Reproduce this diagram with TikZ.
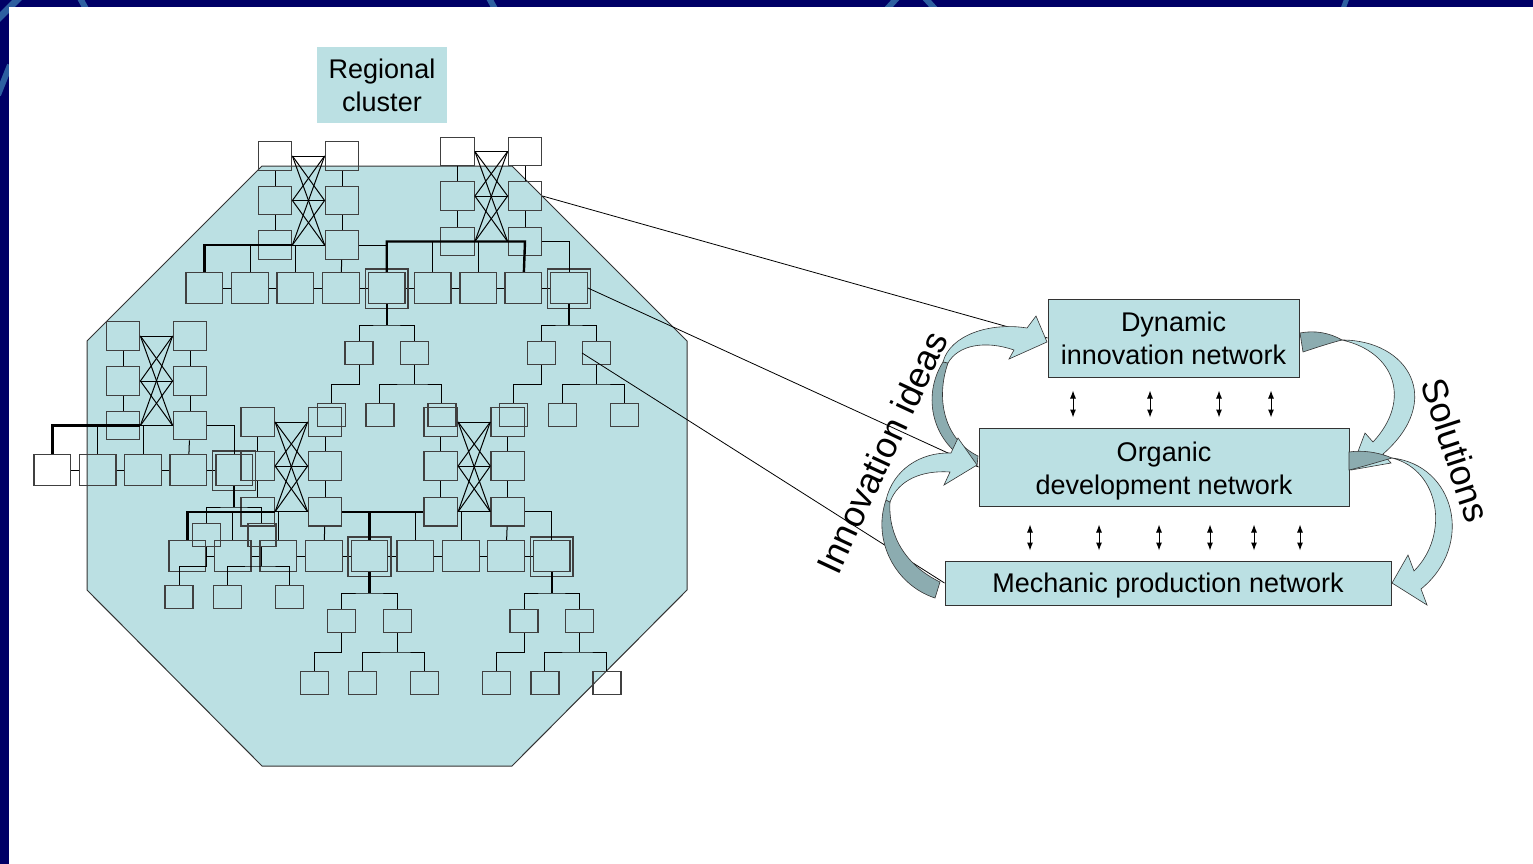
\documentclass[tikz,border=0pt]{standalone}
\usepackage{fontspec}
\setmainfont{Liberation Sans}
\usetikzlibrary{arrows.meta}
\definecolor{clusterfill}{RGB}{187,224,227}
\definecolor{backface}{RGB}{140,172,176}
\definecolor{slidenavy}{RGB}{0,0,102}
\definecolor{slidearc}{RGB}{45,95,160}

\begin{document}
\begin{tikzpicture}[x=1pt,y=-1pt,line width=1pt,
	lat node/.style = {draw=black!75, line width=1.3pt, inner sep=0pt, minimum width=33.5pt, minimum height=28.5pt},
	row node/.style = {draw=black!75, line width=1.3pt, inner sep=0pt, minimum width=36.5pt, minimum height=31pt},
	leaf node/.style = {draw=black!75, line width=1.3pt, inner sep=0pt, minimum width=28pt, minimum height=23.5pt},
	net node/.style = {draw=black!80, fill=clusterfill, align=center, inner sep=0pt, font=\fontsize{27}{33}\selectfont},
	net text/.style = {align=center, font=\fontsize{27}{33}\selectfont, yshift=-4pt},
	bus/.style = {line width=2.4pt},
	link/.style = {line width=0.8pt},
	dbl/.style = {{Latex[length=8pt,width=6pt]}-{Latex[length=8pt,width=6pt]}, line width=1pt},
	front/.style = {fill=clusterfill, draw=black!80, line width=0.6pt},
	back/.style = {fill=backface, draw=black!80, line width=0.6pt}]

\useasboundingbox (0,0) rectangle (1533,864);
\fill[slidenavy] (0,0) rectangle (1533,864);
\draw[slidearc, line width=7pt] (-3,20) -- (20,-3);
\draw[slidearc, line width=6pt] (80,-2) -- (86,9);
\draw[slidearc, line width=6pt] (489,-2) -- (495,9);
\draw[slidearc, line width=6pt] (887,9) -- (897,-2);
\draw[slidearc, line width=6pt] (925,-2) -- (935,9);
\draw[slidearc, line width=5pt] (1343,9) -- (1347,-2);
\draw[slidearc, line width=6pt] (-2,95) -- (10,65);
\fill[white] (8.5,7) rectangle (1533,864);

% regional cluster
\draw[fill=clusterfill, draw=black!80] (262,166) -- (512,166) -- (687,341) -- (687,590) -- (512,766) -- (262,766) -- (87,590) -- (87,341) -- cycle;
\node[fill=clusterfill, align=center, minimum width=130pt, minimum height=76pt, inner sep=0pt, font=\fontsize{27}{33}\selectfont] (regional) at (382,85) {Regional\\cluster};

% lattices
\foreach \nm/\xl/\xr/\ya/\yb/\yc in {tl/275/342/156/200.5/245, tr/457.5/525/151.5/196/241.5, lf/123/190/336/381/425.5, ml/257.7/325/422/466/511.7, mr/440.7/507.7/422/466/511.7}{
	\node[lat node] (\nm-l1) at (\xl,\ya) {};
	\node[lat node] (\nm-l2) at (\xl,\yb) {};
	\node[lat node] (\nm-l3) at (\xl,\yc) {};
	\node[lat node] (\nm-r1) at (\xr,\ya) {};
	\node[lat node] (\nm-r2) at (\xr,\yb) {};
	\node[lat node] (\nm-r3) at (\xr,\yc) {};
	\draw (\nm-l1) -- (\nm-l2) -- (\nm-l3);
	\draw (\nm-r1) -- (\nm-r2) -- (\nm-r3);
	\foreach \ii in {1,2,3}
		\foreach \jj in {1,2,3}
			\draw (\nm-l\ii.east) -- (\nm-r\jj.west);
}

% rows
\foreach \m/\x in {a/204.3, b/250, c/295.3, d/341, e/386.7, f/432.7, g/478.3, h/523.3, i/569}
	\node[row node] (r1\m) at (\x,288) {};
\foreach \m/\x in {w/52.3, a/97.7, b/143, c/188.3, h/234.2}
	\node[row node] (r2\m) at (\x,470) {};
\foreach \m/\x in {a/187.3, b/232.7, c/278.3, d/324, e/369.5, f/415.3, g/461, h/506, i/551.7}
	\node[row node] (r3\m) at (\x,556) {};
\draw (r1a) -- (r1b) -- (r1c) -- (r1d) -- (r1e) -- (r1f) -- (r1g) -- (r1h) -- (r1i);
\draw (r2w) -- (r2a) -- (r2b) -- (r2c) -- (r2h);
\draw (r3a) -- (r3b) -- (r3c) -- (r3d) -- (r3e) -- (r3f) -- (r3g) -- (r3h) -- (r3i);
\foreach \h in {r1e,r1i,r2h,r3e,r3i}
	\draw[draw=black!75, line width=1.3pt] ([shift={(-2.5,-3)}]\h.north west) rectangle ([shift={(2.5,4.5)}]\h.south east);

% buses
\draw[bus] (r1a) |- (tl-l3.east);
\draw (tl-r3.east) -| (r1e);
\draw (r1b) -- (r1b |- tl-l3);
\draw (r1c) -- (r1c |- tl-l3);
\draw (tl-r3) -- (r1d);
\draw[bus] (r1e) |- (tr-r3.center) -- (r1h);
\draw (r1f) -- (r1f |- tr-l3);
\draw (r1g) -- (r1g |- tr-l3);
\draw (tr-r3.east) -| (r1i);

\draw[bus] (r2w) |- (lf-l3.east);
\draw (lf-r3.east) -| (r2h);
\draw (r2a) -- (r2a |- lf-l3);
\draw (r2b) -- (r2b |- lf-l3);
\draw (lf-r3) -- (r2c);

\draw[bus] (r3a) |- (ml-l3.east);
\draw[bus] (ml-r3.east) -| (r3e);
\draw (r3b) -- (r3b |- ml-l3);
\draw (r3c) -- (r3c |- ml-l3);
\draw (ml-r3) -- (r3d);
\draw[bus] (r3e) |- (mr-l3.west);
\draw (r3f) -- (r3f |- mr-l3);
\draw (r3g) -- (r3g |- mr-l3);
\draw (mr-r3) -- (r3h);
\draw (mr-r3.east) -| (r3i);

% trees under the hubs
\foreach \tn/\pn in {ta/r1e, tb/r1i, tc/r2h, td/r3e, te/r3i}{
	\draw[bus] (\pn) -- ++(0,37) coordinate (\tn-j);
	\node[leaf node] (\tn-a) at ([shift={(-27.7,65)}]\pn) {};
	\node[leaf node] (\tn-b) at ([shift={(27.7,65)}]\pn) {};
	\draw (\tn-a) |- (\tn-j) -| (\tn-b);
	\node[leaf node] (\tn-a1) at ([shift={(-27.5,62)}]\tn-a) {};
	\node[leaf node] (\tn-b1) at ([shift={(-34.5,62)}]\tn-b) {};
	\node[leaf node] (\tn-b2) at ([shift={(27.5,62)}]\tn-b) {};
	\draw (\tn-a) -- ++(0,31) -| (\tn-a1);
	\draw (\tn-b) -- ++(0,31) coordinate (\tn-k);
	\draw (\tn-b1) |- (\tn-k) -| (\tn-b2);
}

% networks
\node[net node, minimum width=251pt, minimum height=78pt] (dyn) at (1173.5,338) {Dynamic\\innovation network};
\node[net node, minimum width=370pt, minimum height=78pt,
	label={[net text]center:Organic\\development network}] (org) at (1164,467) {};
\node[net node, minimum width=446pt, minimum height=44pt,
	label={[net text, yshift=1pt]center:Mechanic production network}] (mech) at (1168,583) {};

\foreach \x in {1073,1150,1219,1271}
	\draw[dbl, shorten <=13pt, shorten >=10pt] (dyn.south -| \x,0) -- (org.north -| \x,0);
\foreach \x in {1030,1099,1159,1210,1254,1300}
	\draw[dbl, shorten <=18pt, shorten >=10pt] (org.south -| \x,0) -- (mech.north -| \x,0);

\draw[link] (tr-r2.east) -- (dyn.west);
\draw[link] (r1i.east) -- (org.west);
\draw[link] (tb-b.west) -- (mech.west);

% curved arrows
\path[back] (943,362) .. controls (922,395) and (930,445) .. (977,466) -- (978,456) .. controls (945,440) and (935,400) .. (948,363) -- cycle;
\path[front] (943,362) .. controls (950,335) and (990,322) .. (1027,328) -- (1036,316) -- (1047,342) -- (1009,359) -- (1014,350) .. controls (985,340) and (958,345) .. (948,363) -- cycle;
\path[back] (886,500) .. controls (872,540) and (895,585) .. (935,598) -- (940,582) .. controls (905,565) and (888,535) .. (890,502) -- cycle;
\path[front] (886,500) .. controls (893,470) and (920,452) .. (951,453) -- (958,438) -- (977,465) -- (944,485) -- (950,472) .. controls (922,470) and (898,480) .. (890,502) -- cycle;
\path[back] (1300,333) .. controls (1315,330) and (1330,333) .. (1342,340) .. controls (1330,343) and (1315,348) .. (1303,352) -- cycle;
\path[front] (1342,340) .. controls (1408,340) and (1445,400) .. (1383,454) -- (1391,463) -- (1351,470) -- (1365,433) -- (1373,442) .. controls (1412,400) and (1395,352) .. (1342,340) -- cycle;
\path[back] (1349,452) .. controls (1362,450) and (1378,452) .. (1392,458) .. controls (1378,462) and (1362,467) .. (1349,470) -- cycle;
\path[front] (1392,458) .. controls (1455,465) and (1475,545) .. (1421,589) -- (1427,605) -- (1392,583) -- (1408,555) -- (1414,571) .. controls (1450,535) and (1440,470) .. (1392,458) -- cycle;

\node[rotate=65, font=\fontsize{36}{40}\selectfont] (ideas) at (882,452) {Innovation ideas};
\node[rotate=-72, font=\fontsize{36}{40}\selectfont] (solutions) at (1456,450) {Solutions};

\end{tikzpicture}
\end{document}
